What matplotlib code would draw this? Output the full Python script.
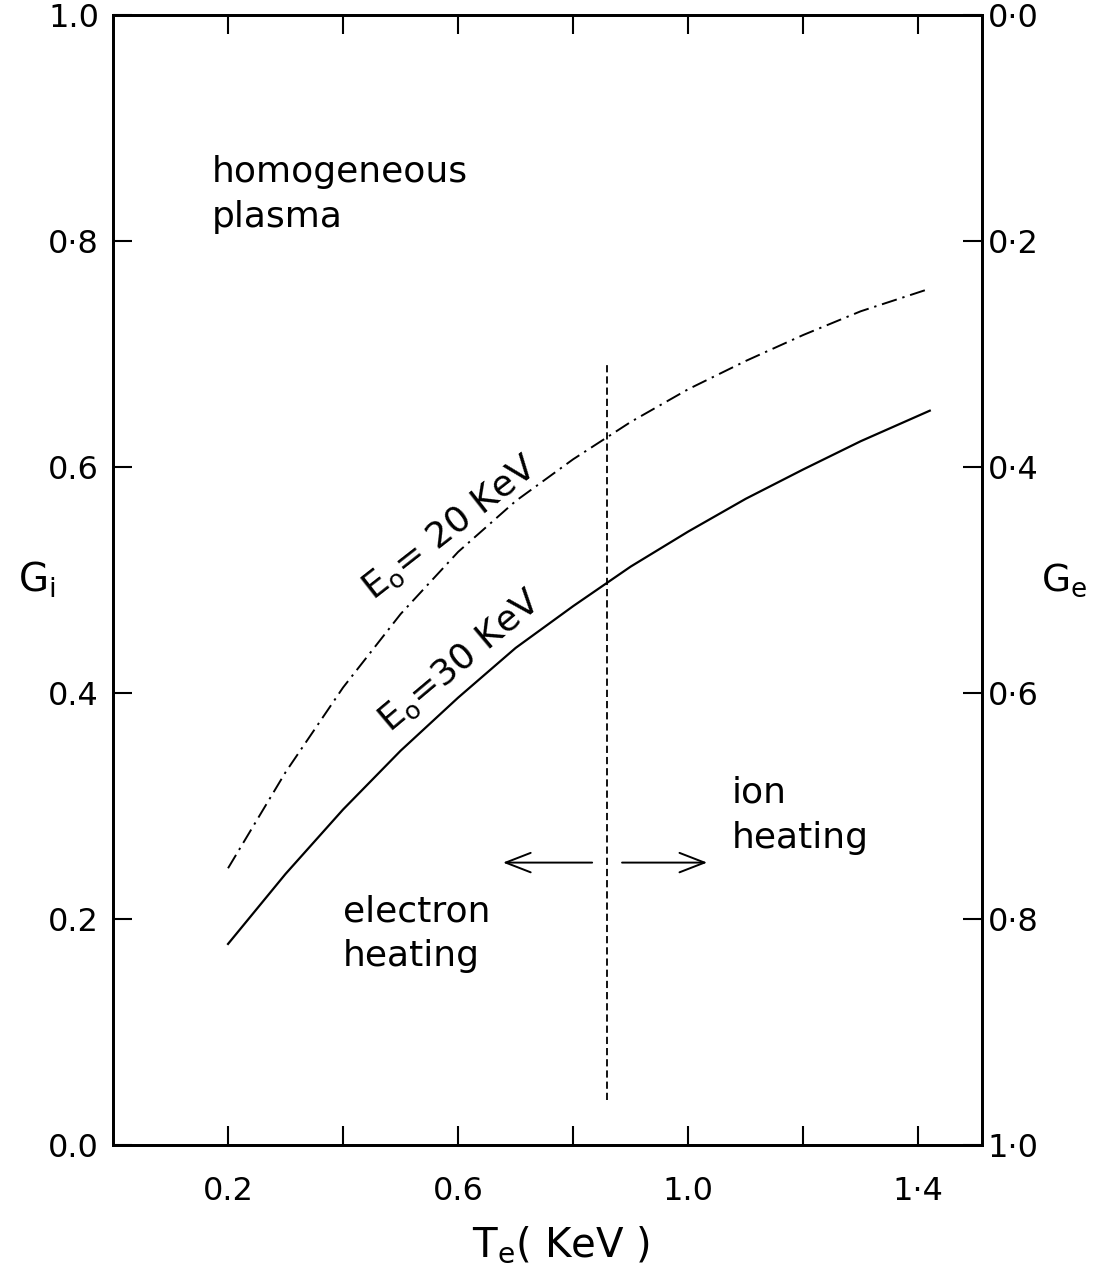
import matplotlib
matplotlib.use("Agg")
from matplotlib import pyplot as plt
from matplotlib.ticker import FixedLocator, FixedFormatter

# electron temperature (KeV) and ion fraction G_i for two beam energies
te = [0.2, 0.3, 0.4, 0.5, 0.6, 0.7, 0.8, 0.9, 1.0, 1.1, 1.2, 1.3, 1.42]
gi_30kev = [0.178, 0.24, 0.297, 0.349, 0.396, 0.44, 0.477, 0.512, 0.543, 0.572, 0.598, 0.623, 0.65]
gi_20kev = [0.245, 0.33, 0.405, 0.47, 0.525, 0.57, 0.607, 0.64, 0.669, 0.694, 0.717, 0.738, 0.758]

# boundary between electron and ion heating
te_boundary = 0.858
boundary_span = [0.04, 0.69]

x_ticks = [0.2, 0.4, 0.6, 0.8, 1.0, 1.2, 1.4]
x_tick_labels = ['0.2', '', '0.6', '', '1.0', '', '1·4']
y_ticks = [0.0, 0.2, 0.4, 0.6, 0.8, 1.0]
gi_tick_labels = ['0.0', '0.2', '0.4', '0.6', '0·8', '1.0']
ge_tick_labels = ['1·0', '0·8', '0·6', '0·4', '0·2', '0·0']

plt.rcParams['font.family'] = ['DejaVu Sans']
plt.rcParams['mathtext.default'] = 'regular'

fig = plt.figure(figsize=(10.96, 12.71), dpi=100)
ax = fig.add_axes([0.1031, 0.0991, 0.793, 0.8889])

ax.plot(te, gi_30kev, color='black', lw=1.6)
ax.plot(te, gi_20kev, color='black', lw=1.4, linestyle=(0, (8, 3, 1.2, 3)))
ax.vlines(te_boundary, boundary_span[0], boundary_span[1], colors='black', lw=1.3,
          linestyles=(0, (4, 2.2)))

arrow = dict(arrowstyle='->,head_length=0.9,head_width=0.35', color='black', lw=1.4,
             mutation_scale=20, shrinkA=0, shrinkB=0)
ax.annotate('', xy=(0.678, 0.25), xytext=(0.833, 0.25), arrowprops=arrow)
ax.annotate('', xy=(1.033, 0.25), xytext=(0.885, 0.25), arrowprops=arrow)

ax.text(0.172, 0.841, 'homogeneous\nplasma', fontsize=26, ha='left', va='center', linespacing=1.4)
ax.text(1.075, 0.292, 'ion\nheating', fontsize=26, ha='left', va='center', linespacing=1.4)
ax.text(0.4, 0.187, 'electron\nheating', fontsize=26, ha='left', va='center', linespacing=1.4)
ax.text(0.586, 0.546, 'E$_o$= 20 KeV', fontsize=26, rotation=38, ha='center', va='center',
        rotation_mode='anchor')
ax.text(0.603, 0.428, 'E$_o$=30 KeV', fontsize=26, rotation=40, ha='center', va='center',
        rotation_mode='anchor')

ax.set_xlim(0.0, 1.511)
ax.set_ylim(0.0, 1.0)
ax.xaxis.set_major_locator(FixedLocator(x_ticks))
ax.xaxis.set_major_formatter(FixedFormatter(x_tick_labels))
ax.yaxis.set_major_locator(FixedLocator(y_ticks))
ax.yaxis.set_major_formatter(FixedFormatter(gi_tick_labels))
ax.tick_params(axis='both', direction='in', length=14, width=1.5, labelsize=23, pad=10)
ax.tick_params(axis='x', top=True, pad=22)

ge = ax.twinx()
ge.set_ylim(1.0, 0.0)
ge.yaxis.set_major_locator(FixedLocator(y_ticks))
ge.yaxis.set_major_formatter(FixedFormatter(ge_tick_labels[::-1]))
ge.tick_params(direction='in', length=14, width=1.5, labelsize=23, pad=4)

for a in (ax, ge):
    for spine in a.spines.values():
        spine.set_linewidth(2.0)

ax.set_xlabel('T$_e$( KeV )', fontsize=29, va='center')
ax.xaxis.set_label_coords(0.515, -0.088)
ax.set_ylabel('G$_i$', fontsize=28, rotation=0, va='center', ha='center')
ax.yaxis.set_label_coords(-0.088, 0.5)
ge.set_ylabel('G$_e$', fontsize=27, rotation=0, va='center', ha='center')
ge.yaxis.set_label_coords(1.094, 0.5)

fig.savefig('out.png', dpi=100)
